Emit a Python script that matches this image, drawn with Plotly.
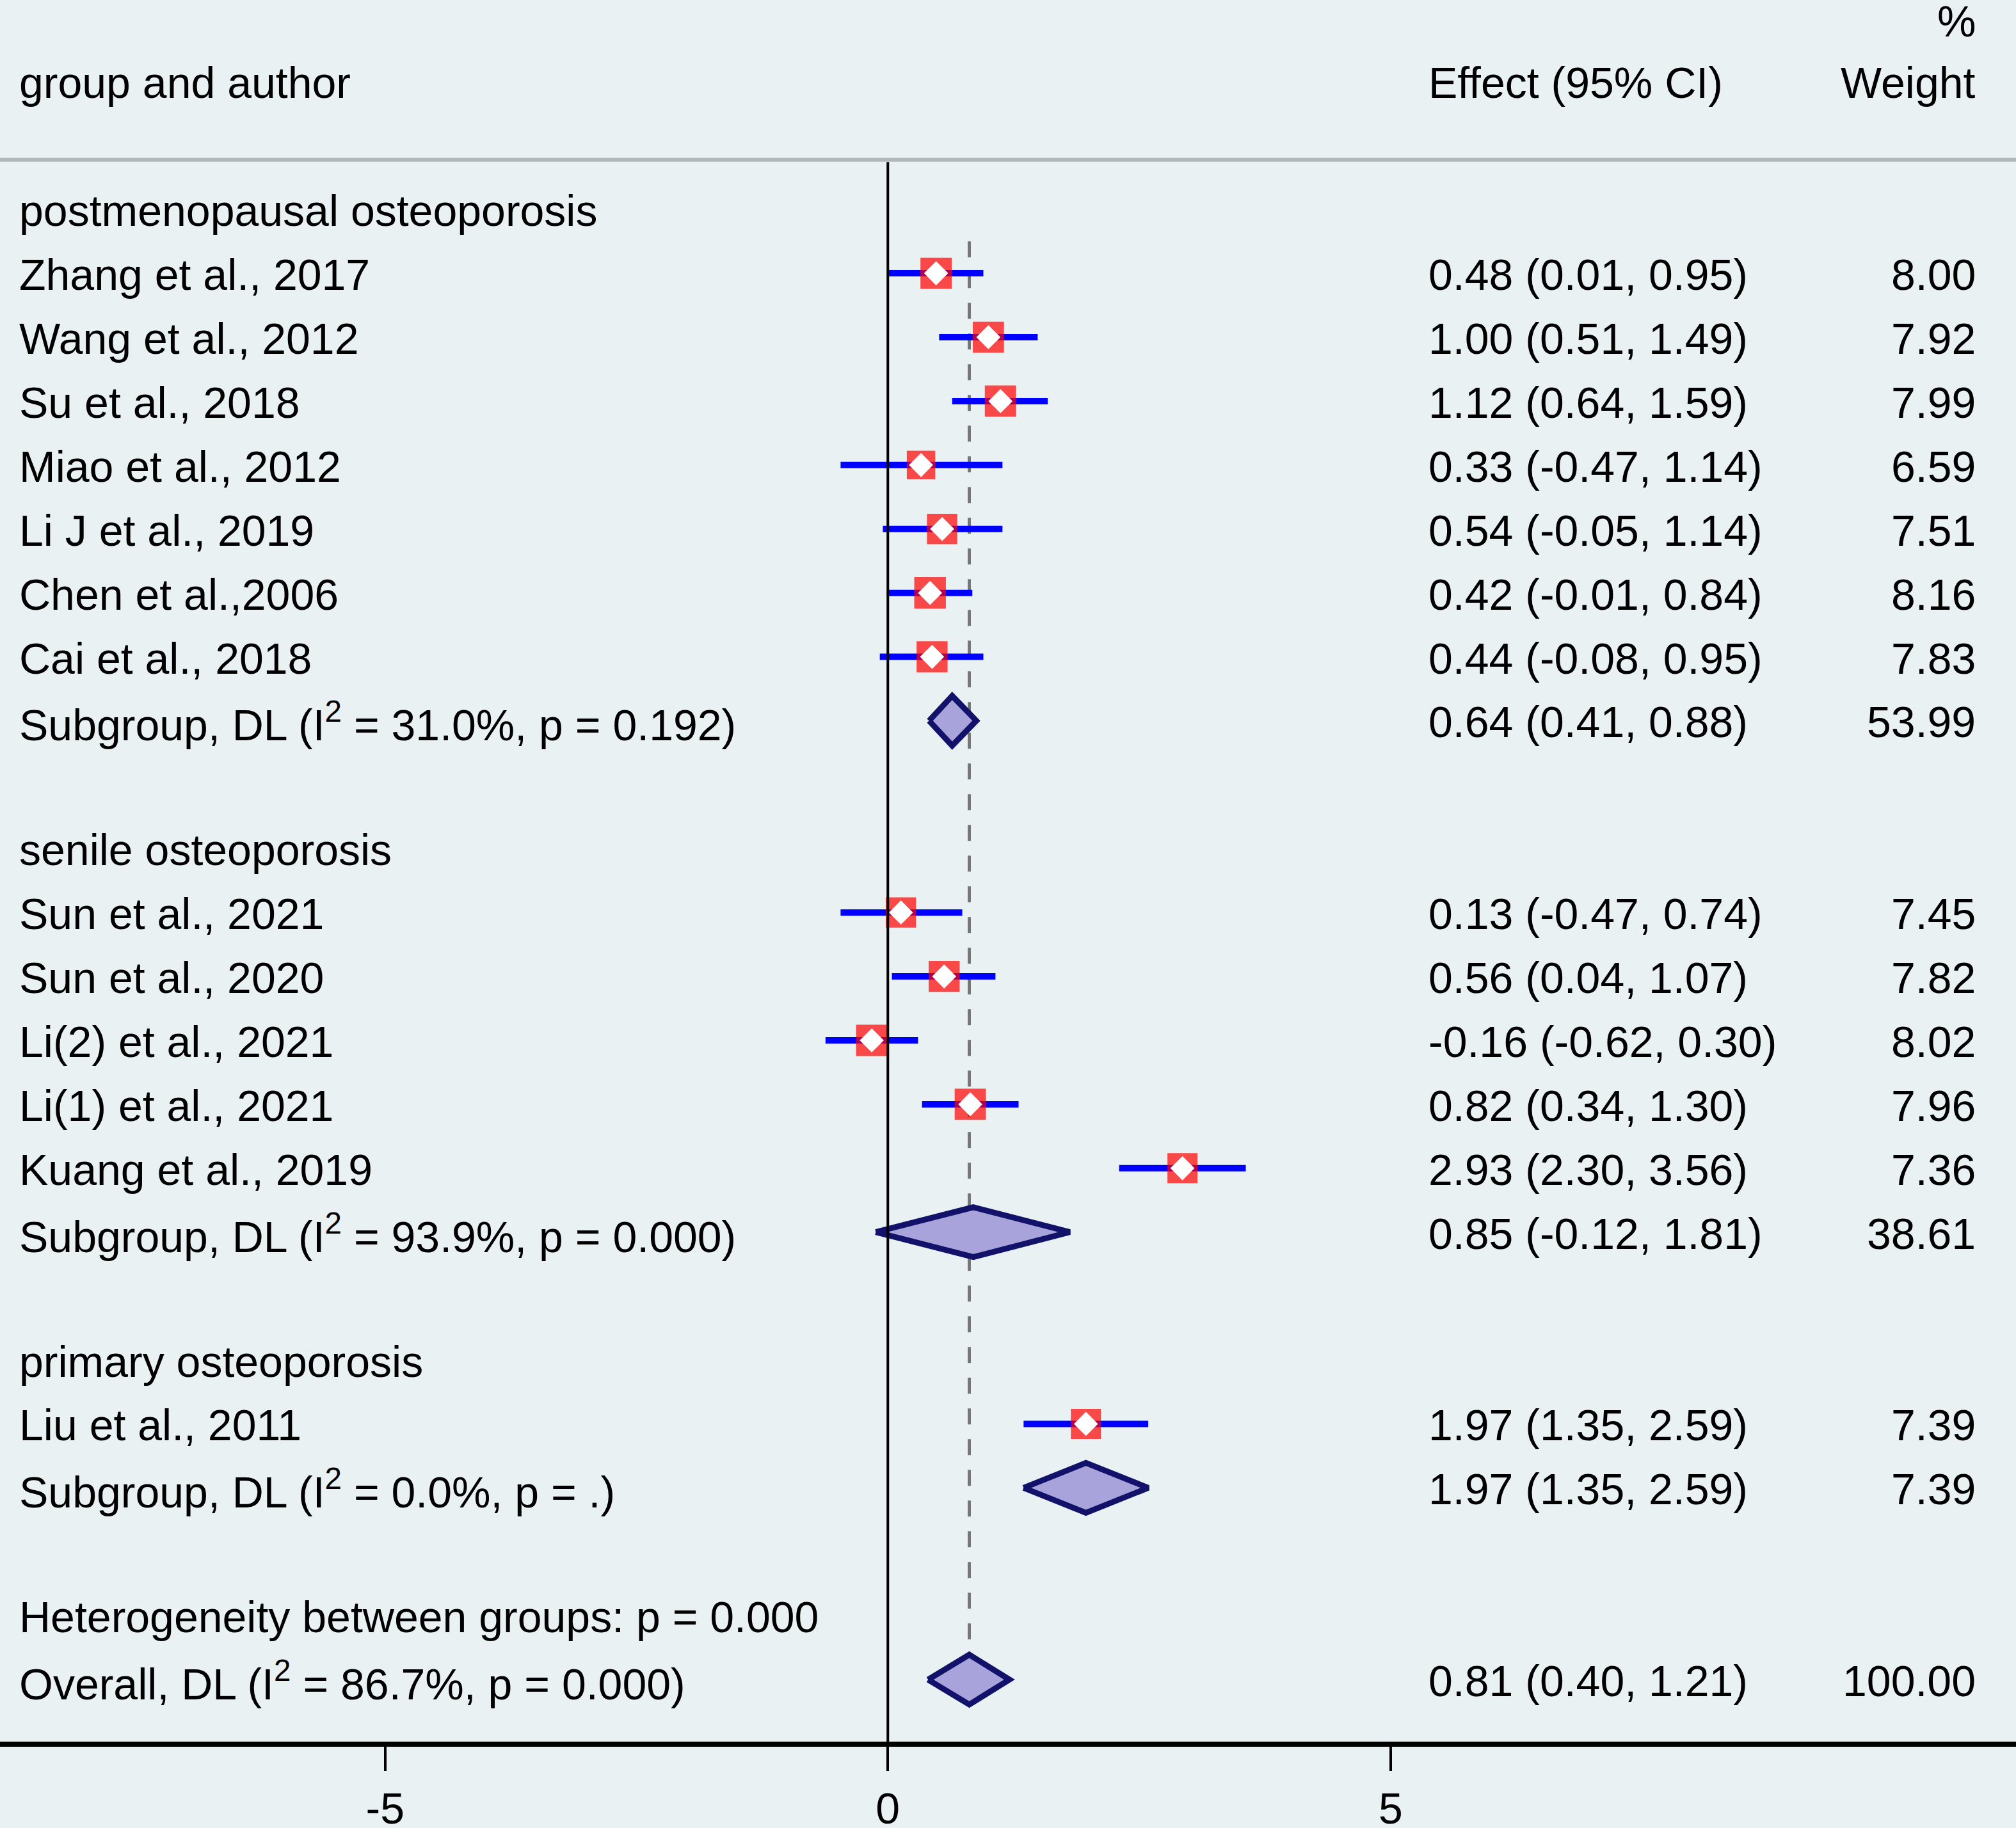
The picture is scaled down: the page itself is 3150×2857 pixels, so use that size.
import plotly.graph_objects as go
import math

# ---------------- data ----------------
study_names = ["Zhang et al., 2017", "Wang et al., 2012", "Su et al., 2018", "Miao et al., 2012",
               "Li J et al., 2019", "Chen et al.,2006", "Cai et al., 2018",
               "Sun et al., 2021", "Sun et al., 2020", "Li(2) et al., 2021", "Li(1) et al., 2021",
               "Kuang et al., 2019", "Liu et al., 2011"]
study_rows = [1, 2, 3, 4, 5, 6, 7, 11, 12, 13, 14, 15, 19]
study_est = [0.48, 1.00, 1.12, 0.33, 0.54, 0.42, 0.44, 0.13, 0.56, -0.16, 0.82, 2.93, 1.97]
study_lo = [0.01, 0.51, 0.64, -0.47, -0.05, -0.01, -0.08, -0.47, 0.04, -0.62, 0.34, 2.30, 1.35]
study_hi = [0.95, 1.49, 1.59, 1.14, 1.14, 0.84, 0.95, 0.74, 1.07, 0.30, 1.30, 3.56, 2.59]
study_wt = [8.00, 7.92, 7.99, 6.59, 7.51, 8.16, 7.83, 7.45, 7.82, 8.02, 7.96, 7.36, 7.39]

group_names = ["postmenopausal osteoporosis", "senile osteoporosis", "primary osteoporosis"]
group_rows = [0, 10, 18]

pooled_labels = ["Subgroup, DL (I<sup>2</sup> = 31.0%, p = 0.192)",
                 "Subgroup, DL (I<sup>2</sup> = 93.9%, p = 0.000)",
                 "Subgroup, DL (I<sup>2</sup> = 0.0%, p = .)",
                 "Overall, DL (I<sup>2</sup> = 86.7%, p = 0.000)"]
pooled_rows = [8, 16, 20, 23]
pooled_est = [0.64, 0.85, 1.97, 0.81]
pooled_lo = [0.41, -0.12, 1.35, 0.40]
pooled_hi = [0.88, 1.81, 2.59, 1.21]
pooled_wt = [53.99, 38.61, 7.39, 100.00]

het_label = "Heterogeneity between groups: p = 0.000"
het_row = 22

x_ticks = [-5, 0, 5]
header_left = "group and author"
header_effect = "Effect (95% CI)"
header_weight = ["%", "Weight"]

# ---------------- layout constants ----------------
W, H = 3150, 2857
MB = 135
X0, X1 = -8.83, 11.22
Y_TOP, Y_BOT = -3.275, 23.97
COL_LEFT = -8.65
COL_EFF = 5.366
COL_WT = 10.83
FONT = "Liberation Sans, Arial, sans-serif"
FS = 68
BG = "#e9f1f2"
overall_est = pooled_est[-1]
DH = 0.39
ROW_SHIFT = 0.02


def fmt(v):
    return f"{v:.2f}"


def ci_text(e, l, h):
    return f"{fmt(e)} ({fmt(l)}, {fmt(h)})"


fig = go.Figure()

# CI lines
cx, cy = [], []
for r, l, h in zip(study_rows, study_lo, study_hi):
    cx += [l, h, None]
    cy += [r, r, None]
fig.add_trace(go.Scatter(x=cx, y=cy, mode="lines", line=dict(color="#0000ff", width=10),
                         hoverinfo="skip", showlegend=False))

# weighted squares
fig.add_trace(go.Scatter(x=study_est, y=study_rows, mode="markers",
                         marker=dict(symbol="square", color="#ff0000",
                                     size=[17.3 * math.sqrt(w) for w in study_wt],
                                     line=dict(width=0)),
                         showlegend=False))
# white diamonds
fig.add_trace(go.Scatter(x=study_est, y=study_rows, mode="markers",
                         marker=dict(symbol="diamond", color="white", size=29, line=dict(width=0)),
                         showlegend=False))

# pooled diamonds
dx, dy = [], []
for r, e, l, h in zip(pooled_rows, pooled_est, pooled_lo, pooled_hi):
    dx += [l, e, h, e, l, None]
    dy += [r, r - DH, r, r + DH, r, None]
fig.add_trace(go.Scatter(x=dx, y=dy, mode="lines", fill="toself", fillcolor="#a9a3dc",
                         line=dict(color="#12126b", width=9), hoverinfo="skip", showlegend=False))

# ---------------- text ----------------
ann = []


def add_text(x, y, t, anchor="left"):
    ann.append(dict(x=x, y=y + ROW_SHIFT, xref="x", yref="y", text=t, showarrow=False, xanchor=anchor,
                    yanchor="middle", font=dict(family=FONT, size=FS, color="black")))


add_text(COL_LEFT, -2, header_left)
add_text(COL_EFF, -2, header_effect)
add_text(COL_WT, -2.96, header_weight[0], "right")
add_text(COL_WT, -2, header_weight[1], "right")

for n, r in zip(group_names, group_rows):
    add_text(COL_LEFT, r, n)
for n, r, e, l, h, w in zip(study_names, study_rows, study_est, study_lo, study_hi, study_wt):
    add_text(COL_LEFT, r, n)
    add_text(COL_EFF, r, ci_text(e, l, h))
    add_text(COL_WT, r, fmt(w), "right")
for n, r, e, l, h, w in zip(pooled_labels, pooled_rows, pooled_est, pooled_lo, pooled_hi, pooled_wt):
    add_text(COL_LEFT, r, n)
    add_text(COL_EFF, r, ci_text(e, l, h))
    add_text(COL_WT, r, fmt(w), "right")
add_text(COL_LEFT, het_row, het_label)

# ---------------- shapes ----------------
shapes = [
    # header separator
    dict(type="line", xref="paper", yref="y", x0=0, x1=1, y0=-0.775, y1=-0.775,
         line=dict(color="#b3b7b8", width=6), layer="below"),
    # overall effect dashed line
    dict(type="line", xref="x", yref="y", x0=overall_est, x1=overall_est, y0=0.5,
         y1=pooled_rows[-1] - DH, line=dict(color="#777777", width=5, dash="25px,23px"), layer="below"),
    # null line
    dict(type="line", xref="x", yref="y", x0=0, x1=0, y0=-0.74, y1=Y_BOT,
         line=dict(color="black", width=4), layer="above"),
]

fig.update_layout(
    width=W, height=H,
    margin=dict(l=0, r=0, t=0, b=MB, pad=0, autoexpand=False),
    paper_bgcolor=BG, plot_bgcolor=BG,
    showlegend=False,
    annotations=ann,
    shapes=shapes,
    xaxis=dict(range=[X0, X1], showgrid=False, zeroline=False, showline=True, linecolor="black",
               linewidth=8, ticks="outside", ticklen=38, tickwidth=4, tickcolor="black",
               tickvals=x_ticks, ticktext=[str(t) for t in x_ticks], ticklabelstandoff=0,
               automargin=False,
               tickfont=dict(family=FONT, size=FS, color="black"), fixedrange=True),
    yaxis=dict(range=[Y_BOT, Y_TOP], showgrid=False, zeroline=False, showline=False,
               showticklabels=False, ticks="", fixedrange=True, automargin=False),
)

fig.write_html("out.html", config={"displayModeBar": False, "staticPlot": True},
               post_script="document.body.style.margin='0';document.body.style.padding='0';"
                           "document.body.style.overflow='hidden';")
